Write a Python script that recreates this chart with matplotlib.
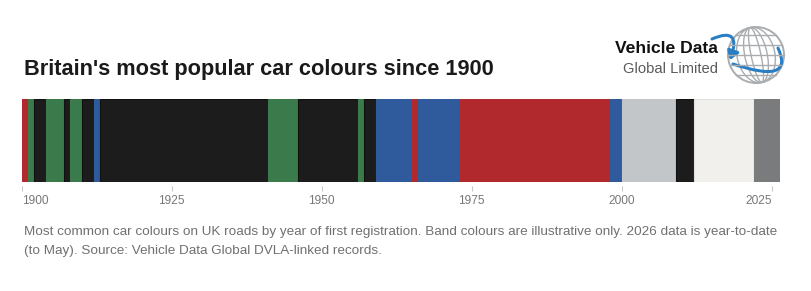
import numpy as np
import matplotlib.pyplot as plt
from matplotlib.patches import Circle, Ellipse, FancyArrowPatch
from matplotlib.path import Path

plt.rcParams['font.family'] = ['Liberation Sans', 'DejaVu Sans']

# colour periods (first year, end year, colour name)
start_years = [1900, 1901, 1902, 1904, 1907, 1908, 1910, 1912, 1913, 1941, 1946, 1956,
               1957, 1959, 1965, 1966, 1973, 1998, 2000, 2009, 2012, 2022]
end_years = [1901, 1902, 1904, 1907, 1908, 1910, 1912, 1913, 1941, 1946, 1956, 1957,
             1959, 1965, 1966, 1973, 1998, 2000, 2009, 2012, 2022, 2026.4]
colour_names = ['red', 'green', 'black', 'green', 'black', 'green', 'black', 'blue',
                'black', 'green', 'black', 'green', 'black', 'blue', 'red', 'blue',
                'red', 'blue', 'silver', 'black', 'white', 'grey']
tick_years = [1900, 1925, 1950, 1975, 2000, 2025]

palette = {'red': '#b2292d', 'green': '#3b7a4b', 'black': '#1c1c1c', 'blue': '#2f5a9c',
           'silver': '#c2c6c8', 'white': '#f1f0ec', 'grey': '#7a7b7d'}
edges = {'white': '#dedede', 'black': '#111111'}

W, H = 812, 291
fig = plt.figure(figsize=(W / 100, H / 100), dpi=100)
fig.patch.set_facecolor('white')

# bar axes: 1900 at x=21.7px, bar from y=99 to y=182
x0, x1 = 21.7, 780.0
ax = fig.add_axes([x0 / W, (H - 182) / H, (x1 - x0) / W, 83 / H])
for s, e, c in zip(start_years, end_years, colour_names):
    ax.barh(0, e - s, left=s, height=1, color=palette[c],
            edgecolor=edges.get(c, palette[c]), linewidth=0.8)
ax.set_xlim(1900, 2026.4)
ax.set_ylim(-0.5, 0.5)
ax.set_yticks([])
for sp in ax.spines.values():
    sp.set_visible(False)
ax.spines['bottom'].set_position(('outward', 3))
ax.set_xticks(tick_years)
ax.set_xticklabels([str(t) for t in tick_years])
ax.tick_params(axis='x', length=3.5, width=0.8, color='#c8c8c8', labelcolor='#777777',
               labelsize=8.6, pad=3)
labels = ax.get_xticklabels()
labels[0].set_horizontalalignment('left')
labels[-1].set_horizontalalignment('right')

# title and footnote
fig.text(24 / W, 1 - 70 / H, "Britain's most popular car colours since 1900",
         fontsize=15.7, fontweight='bold', color='#1a1a1a', va='center', ha='left')
fig.text(24 / W, 1 - 232 / H,
         "Most common car colours on UK roads by year of first registration. Band colours are illustrative only. 2026 data is year-to-date",
         fontsize=9.7, color='#707070', va='center', ha='left')
fig.text(24 / W, 1 - 251 / H, "(to May). Source: Vehicle Data Global DVLA-linked records.",
         fontsize=9.7, color='#707070', va='center', ha='left')

# logo
lg = fig.add_axes([0, 0, 1, 1])
lg.set_xlim(0, W)
lg.set_ylim(H, 0)
lg.axis('off')
lg.patch.set_alpha(0)
lg.text(718, 53, "Vehicle Data", fontsize=12.6, fontweight='bold', color='#111111',
        ha='right', va='baseline')
lg.text(718, 73, "Global Limited", fontsize=10.6, color='#5a5a5a', ha='right', va='baseline')

cx, cy, r = 756, 55, 28
gcol = '#a9adb0'
lg.add_patch(Circle((cx, cy), r, fill=False, ec=gcol, lw=1.4))
for w in [0.35, 0.8, 1.35]:
    lg.add_patch(Ellipse((cx, cy), w * r, 2 * r, angle=-12, fill=False, ec=gcol, lw=1.0))
for dy in [-0.7, -0.35, 0, 0.35, 0.7]:
    hw = r * np.sqrt(1 - dy ** 2)
    lg.plot([cx - hw, cx + hw], [cy + dy * r, cy + dy * r], color=gcol, lw=1.0)
blue = '#2a7fc4'
top = Path([(712, 39), (742, 26), (730, 60)], [Path.MOVETO, Path.CURVE3, Path.CURVE3])
lg.add_patch(FancyArrowPatch(path=top, arrowstyle='-|>,head_length=5,head_width=3.5',
                             color=blue, lw=2.2))
bot = Path([(733, 64), (795, 85), (778, 48)], [Path.MOVETO, Path.CURVE3, Path.CURVE3])
lg.add_patch(FancyArrowPatch(path=bot, arrowstyle='-', color=blue, lw=2.2))

fig.savefig('out.png', dpi=100, facecolor='white')
